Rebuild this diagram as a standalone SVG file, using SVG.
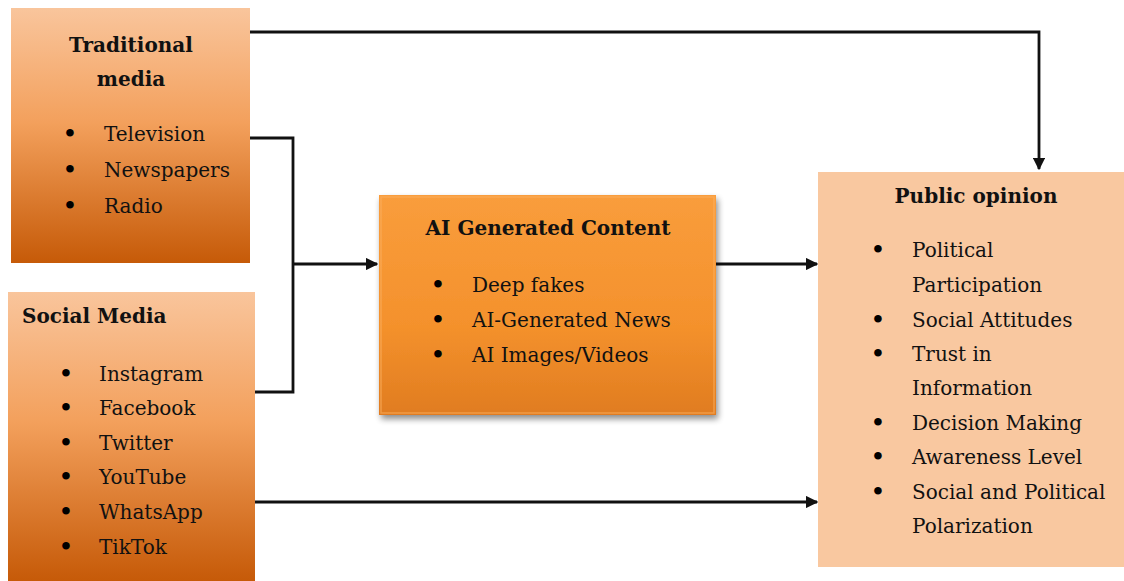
<svg xmlns="http://www.w3.org/2000/svg" width="1124" height="581" viewBox="0 0 1124 581">
<style>
.t{font-family:"DejaVu Serif","Liberation Serif",serif;font-size:20px;fill:#111}
.b{font-weight:bold}
.c{text-anchor:middle}
.d{font-family:"DejaVu Serif","Liberation Serif",serif;font-size:26px;fill:#000;text-anchor:middle}
.ln{fill:none;stroke:#111;stroke-width:2.8}
</style>
<defs>
<linearGradient id="gOr" x1="0" y1="0" x2="0" y2="1">
<stop offset="0" stop-color="#f9c59c"/>
<stop offset="0.45" stop-color="#f3a05c"/>
<stop offset="1" stop-color="#c65a08"/>
</linearGradient>
<linearGradient id="gAi" x1="0" y1="0" x2="0" y2="1">
<stop offset="0" stop-color="#f99d3c"/>
<stop offset="0.6" stop-color="#f4912c"/>
<stop offset="1" stop-color="#e07c20"/>
</linearGradient>
<filter id="sh" x="-10%" y="-10%" width="125%" height="130%">
<feGaussianBlur in="SourceAlpha" stdDeviation="3"/>
<feOffset dx="2" dy="4"/>
<feComponentTransfer><feFuncA type="linear" slope="0.45"/></feComponentTransfer>
<feMerge><feMergeNode/><feMergeNode in="SourceGraphic"/></feMerge>
</filter>
<marker id="ar" viewBox="0 0 10 10" refX="9" refY="5" markerWidth="4.5" markerHeight="4.5" orient="auto" markerUnits="strokeWidth">
<path d="M0,0 L10,5 L0,10 z" fill="#111"/>
</marker>
</defs>

<g id="connectors">
<path class="ln" d="M250,32 H1039 V169" marker-end="url(#ar)"/>
<path class="ln" d="M250,138 H293 V392 H255"/>
<path class="ln" d="M293,264 H377" marker-end="url(#ar)"/>
<path class="ln" d="M716,264 H817" marker-end="url(#ar)"/>
<path class="ln" d="M255,502 H817" marker-end="url(#ar)"/>
</g>

<g id="traditional-media">
<rect x="11" y="8" width="239" height="255" fill="url(#gOr)"/>
<text class="t b c" x="131" y="52">Traditional</text>
<text class="t b c" x="131" y="86">media</text>
<text class="d" x="70" y="143">•</text><text class="t" x="104" y="141">Television</text>
<text class="d" x="70" y="179">•</text><text class="t" x="104" y="177">Newspapers</text>
<text class="d" x="70" y="215">•</text><text class="t" x="104" y="213">Radio</text>
</g>

<g id="social-media">
<rect x="8" y="292" width="247" height="289" fill="url(#gOr)"/>
<text class="t b" x="22" y="323">Social Media</text>
<text class="d" x="66" y="383">•</text><text class="t" x="99" y="381">Instagram</text>
<text class="d" x="66" y="417">•</text><text class="t" x="99" y="415">Facebook</text>
<text class="d" x="66" y="452">•</text><text class="t" x="99" y="450">Twitter</text>
<text class="d" x="66" y="486">•</text><text class="t" x="99" y="484">YouTube</text>
<text class="d" x="66" y="521">•</text><text class="t" x="99" y="519">WhatsApp</text>
<text class="d" x="66" y="556">•</text><text class="t" x="99" y="554">TikTok</text>
</g>

<g id="ai-generated-content">
<rect x="379" y="195" width="337" height="220" fill="url(#gAi)" filter="url(#sh)"/>
<rect x="381" y="197" width="333" height="216" fill="none" stroke="#fbb060" stroke-width="1.5" opacity="0.6"/>
<text class="t b c" x="548" y="235">AI Generated Content</text>
<text class="d" x="438" y="294">•</text><text class="t" x="472" y="292">Deep fakes</text>
<text class="d" x="438" y="329">•</text><text class="t" x="472" y="327">AI-Generated News</text>
<text class="d" x="438" y="364">•</text><text class="t" x="472" y="362">AI Images/Videos</text>
</g>

<g id="public-opinion">
<rect x="818" y="172" width="306" height="395" fill="#f9c8a0"/>
<text class="t b c" x="976" y="203">Public opinion</text>
<text class="d" x="878" y="259">•</text><text class="t" x="912" y="257">Political</text>
<text class="t" x="912" y="292">Participation</text>
<text class="d" x="878" y="329">•</text><text class="t" x="912" y="327">Social Attitudes</text>
<text class="d" x="878" y="363">•</text><text class="t" x="912" y="361">Trust in</text>
<text class="t" x="912" y="395">Information</text>
<text class="d" x="878" y="432">•</text><text class="t" x="912" y="430">Decision Making</text>
<text class="d" x="878" y="466">•</text><text class="t" x="912" y="464">Awareness Level</text>
<text class="d" x="878" y="501">•</text><text class="t" x="912" y="499">Social and Political</text>
<text class="t" x="912" y="533">Polarization</text>
</g>
</svg>
